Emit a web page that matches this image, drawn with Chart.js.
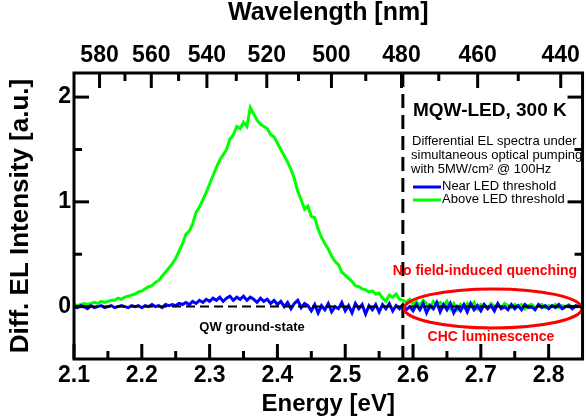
<!DOCTYPE html>
<html>
<head>
<meta charset="utf-8">
<script src="https://cdn.jsdelivr.net/npm/chart.js@4.4.0/dist/chart.umd.min.js"></script>
<style>
  html, body { margin:0; padding:0; background:#fff; }
</style>
</head>
<body>
<canvas id="chart" width="586" height="418"></canvas>
<script>
// Energy grid [eV]
const energy = [
  2.100,2.105,2.110,2.115,2.120,2.125,2.130,2.135,2.140,2.145,
  2.150,2.155,2.160,2.165,2.170,2.175,2.180,2.185,2.190,2.195,
  2.200,2.205,2.210,2.215,2.220,2.225,2.230,2.235,2.240,2.245,
  2.250,2.255,2.260,2.265,2.270,2.275,2.280,2.285,2.290,2.295,
  2.300,2.305,2.310,2.315,2.320,2.325,2.330,2.335,2.340,2.345,
  2.350,2.355,2.360,2.365,2.370,2.375,2.380,2.385,2.390,2.395,
  2.400,2.405,2.410,2.415,2.420,2.425,2.430,2.435,2.440,2.445,
  2.450,2.455,2.460,2.465,2.470,2.475,2.480,2.485,2.490,2.495,
  2.500,2.505,2.510,2.515,2.520,2.525,2.530,2.535,2.540,2.545,
  2.550,2.555,2.560,2.565,2.570,2.575,2.580,2.585,2.590,2.595,
  2.600,2.605,2.610,2.615,2.620,2.625,2.630,2.635,2.640,2.645,
  2.650,2.655,2.660,2.665,2.670,2.675,2.680,2.685,2.690,2.695,
  2.700,2.705,2.710,2.715,2.720,2.725,2.730,2.735,2.740,2.745,
  2.750,2.755,2.760,2.765,2.770,2.775,2.780,2.785,2.790,2.795,
  2.800,2.805,2.810,2.815,2.820,2.825,2.830,2.835,2.840,2.845,
  2.850
];

// Near LED threshold (blue)
const nearLED = [
  0.00,-0.01,0.01,0.00,-0.02,0.01,-0.01,0.00,0.01,-0.01,
  0.00,0.01,-0.01,0.00,0.01,0.00,-0.01,0.01,0.00,0.01,
  -0.01,0.01,0.00,0.02,0.00,0.01,-0.01,0.02,0.01,0.02,
  0.01,0.03,0.02,0.04,0.02,0.05,0.03,0.06,0.04,0.07,
  0.05,0.08,0.06,0.09,0.05,0.08,0.10,0.06,0.09,0.07,
  0.10,0.06,0.09,0.07,0.04,0.08,0.05,0.07,0.03,0.06,
  0.02,0.05,0.00,0.04,-0.02,0.03,0.06,-0.01,0.03,0.01,
  -0.04,0.02,-0.06,0.01,-0.03,0.03,-0.05,0.00,-0.02,0.04,
  -0.04,0.01,-0.06,0.03,-0.02,0.02,-0.07,0.01,-0.03,0.02,
  -0.05,0.02,-0.02,0.03,-0.04,0.01,-0.02,0.02,-0.03,0.00,
  -0.04,0.02,-0.03,0.03,-0.06,0.01,-0.02,0.04,-0.05,0.02,
  -0.03,0.03,-0.06,0.00,-0.04,0.02,-0.05,0.03,-0.03,0.01,
  -0.04,0.02,-0.02,0.01,-0.04,0.03,-0.02,0.00,-0.03,0.02,
  -0.02,0.01,-0.03,0.02,-0.01,0.00,-0.03,0.02,-0.01,0.01,
  -0.02,0.01,-0.01,0.02,-0.02,0.00,0.01,-0.02,0.01,0.00,
  0.00
];

// Above LED threshold (green)
const aboveLED = [
  0.02,0.01,0.02,0.03,0.02,0.03,0.04,0.03,0.05,0.04,
  0.05,0.06,0.06,0.08,0.07,0.09,0.10,0.11,0.12,0.14,
  0.15,0.17,0.19,0.20,0.23,0.25,0.29,0.33,0.37,0.41,
  0.46,0.53,0.60,0.69,0.72,0.79,0.90,0.95,1.02,1.09,
  1.17,1.25,1.33,1.40,1.45,1.50,1.60,1.64,1.72,1.70,
  1.76,1.72,1.90,1.84,1.78,1.74,1.72,1.70,1.64,1.62,
  1.56,1.50,1.44,1.38,1.31,1.22,1.10,1.02,0.93,0.96,
  0.86,0.85,0.74,0.66,0.60,0.55,0.48,0.43,0.40,0.33,
  0.30,0.27,0.24,0.20,0.19,0.17,0.16,0.14,0.15,0.12,
  0.13,0.08,0.05,0.11,0.09,0.12,0.07,0.06,0.04,0.07,
  0.02,0.05,0.01,0.06,0.03,-0.01,0.05,0.02,0.04,0.00,
  0.05,-0.02,0.03,-0.03,0.02,-0.01,0.03,0.00,0.04,-0.02,
  0.02,0.01,-0.02,0.03,0.00,0.02,-0.01,0.03,0.01,-0.01,
  0.02,0.00,0.02,-0.02,0.01,0.02,-0.01,0.01,0.02,-0.01,
  0.01,0.00,0.02,-0.01,0.01,0.00,0.02,-0.01,0.00,0.01,
  0.00
];

// Tick labels
const energyTicks = [2.1, 2.2, 2.3, 2.4, 2.5, 2.6, 2.7, 2.8];
const energyMinor = [2.15, 2.25, 2.35, 2.45, 2.55, 2.65, 2.75];
const wlTicks = [580, 560, 540, 520, 500, 480, 460, 440];
const wlMinor = [570, 550, 530, 510, 490, 470, 450];
const yTicks = [0, 1, 2];
const yMinor = [0.5, 1.5];

const HC = 1239.84;          // eV*nm
const qwEdge = 2.585;        // dashed line, ~480 nm
const FONT = "'Liberation Sans', Arial, sans-serif";

const pts = arr => energy.map((e, i) => ({x: e, y: arr[i]}));

// frame, inward ticks, annotations
const decor = {
  id: 'decor',
  afterDatasetsDraw(chart) {
    const {ctx, chartArea: a, scales: {x, y}} = chart;
    ctx.save();

    // dashed zero line
    ctx.strokeStyle = '#000';
    ctx.lineWidth = 2;
    ctx.setLineDash([9, 5]);
    const y0 = y.getPixelForValue(0);
    ctx.beginPath(); ctx.moveTo(a.left, y0); ctx.lineTo(a.right, y0); ctx.stroke();

    // dashed vertical line
    ctx.lineWidth = 3;
    ctx.setLineDash([14, 7]);
    const xv = x.getPixelForValue(qwEdge);
    ctx.beginPath(); ctx.moveTo(xv, a.top); ctx.lineTo(xv, a.bottom); ctx.stroke();
    ctx.setLineDash([]);

    // red ellipse around CHC region
    const cx = x.getPixelForValue(2.718), cy = y.getPixelForValue(-0.017);
    const rx = x.getPixelForValue(2.718 + 0.131) - cx;
    const ry = cy - y.getPixelForValue(-0.017 + 0.186);
    ctx.strokeStyle = '#f00';
    ctx.lineWidth = 3;
    ctx.beginPath(); ctx.ellipse(cx, cy, rx, ry, 0, 0, Math.PI * 2); ctx.stroke();

    // frame
    ctx.strokeStyle = '#000';
    ctx.lineWidth = 3;
    ctx.strokeRect(a.left, a.top, a.width, a.height);

    // ticks (inward)
    const tick = (x1, y1, x2, y2) => { ctx.beginPath(); ctx.moveTo(x1, y1); ctx.lineTo(x2, y2); ctx.stroke(); };
    energyTicks.forEach(v => { const p = x.getPixelForValue(v); tick(p, a.bottom, p, a.bottom - 15); });
    energyMinor.forEach(v => { const p = x.getPixelForValue(v); tick(p, a.bottom, p, a.bottom - 8); });
    wlTicks.forEach(w => { const p = x.getPixelForValue(HC / w); tick(p, a.top, p, a.top + 15); });
    wlMinor.forEach(w => { const p = x.getPixelForValue(HC / w); tick(p, a.top, p, a.top + 8); });
    yTicks.forEach(v => {
      const p = y.getPixelForValue(v);
      tick(a.left, p, a.left + 15, p); tick(a.right, p, a.right - 15, p);
    });
    yMinor.forEach(v => {
      const p = y.getPixelForValue(v);
      tick(a.left, p, a.left + 8, p); tick(a.right, p, a.right - 8, p);
    });

    // text block
    ctx.textBaseline = 'middle';
    ctx.textAlign = 'left';
    ctx.fillStyle = '#000';
    ctx.font = 'bold 19px ' + FONT;
    ctx.fillText('MQW-LED, 300 K', 413, 111);
    ctx.font = '13px ' + FONT;
    ctx.fillText('Differential EL spectra under', 412, 141);
    ctx.fillText('simultaneous optical pumping', 411, 155);
    ctx.fillText('with 5MW/cm² @ 100Hz', 411, 169);
    ctx.fillText('Near LED threshold', 442, 186);
    ctx.fillText('Above LED threshold', 442, 199);
    ctx.lineWidth = 3;
    ctx.strokeStyle = '#0000ff';
    tick(413, 187, 441, 187);
    ctx.strokeStyle = '#00ff00';
    tick(413, 200, 441, 200);

    ctx.textAlign = 'center';
    ctx.font = 'bold 13px ' + FONT;
    ctx.fillText('QW ground-state', 252, 327);
    ctx.fillStyle = '#f00';
    ctx.font = 'bold 14px ' + FONT;
    ctx.fillText('No field-induced quenching', 485, 271);
    ctx.fillText('CHC luminescence', 491, 337);

    ctx.restore();
  }
};

const tickFont = {family: FONT, size: 23, weight: 'bold', lineHeight: 1};
const titleFont = {family: FONT, size: 24, weight: 'bold', lineHeight: 1};

new Chart(document.getElementById('chart'), {
  type: 'line',
  data: {
    datasets: [
      {label: 'Near LED threshold', data: pts(nearLED), borderColor: '#0000ff', borderWidth: 3, pointRadius: 0, tension: 0},
      {label: 'Above LED threshold', data: pts(aboveLED), borderColor: '#00ff00', borderWidth: 3, pointRadius: 0, tension: 0}
    ]
  },
  options: {
    responsive: false,
    animation: false,
    devicePixelRatio: 1,
    layout: {padding: {left: 0, right: 2, top: 0, bottom: 0}},
    plugins: {legend: {display: false}, tooltip: {enabled: false}},
    scales: {
      x: {
        type: 'linear', position: 'bottom', min: 2.1, max: 2.85,
        afterBuildTicks: s => { s.ticks = energyTicks.map(v => ({value: v})); },
        afterFit: s => { s.height = 59; },
        ticks: {autoSkip: false, maxRotation: 0, padding: 5, color: '#000', font: tickFont,
                callback: v => v.toFixed(1)},
        grid: {display: false, drawTicks: false},
        border: {display: false},
        title: {display: true, text: 'Energy [eV]', color: '#000', font: titleFont, padding: {top: 0, bottom: 2}}
      },
      x2: {
        type: 'linear', position: 'top', min: 2.1, max: 2.85,
        afterBuildTicks: s => { s.ticks = wlTicks.map(w => ({value: HC / w})); },
        afterFit: s => { s.height = 73; },
        ticks: {autoSkip: false, maxRotation: 0, padding: 6, color: '#000', font: tickFont,
                callback: (v, i) => String(wlTicks[i])},
        grid: {display: false, drawTicks: false},
        border: {display: false},
        title: {display: true, text: 'Wavelength [nm]', color: '#000', font: {family: FONT, size: 25, weight: 'bold', lineHeight: 1}, padding: {top: 1, bottom: 0}}
      },
      y: {
        type: 'linear', position: 'left', min: -0.5, max: 2.23,
        afterBuildTicks: s => { s.ticks = yTicks.map(v => ({value: v})); },
        afterFit: s => { s.width = 74; },
        ticks: {padding: 3, color: '#000', font: tickFont, callback: v => String(v)},
        grid: {display: false, drawTicks: false},
        border: {display: false},
        title: {display: true, text: 'Diff. EL Intensity [a.u.]', color: '#000', font: {family: FONT, size: 26, weight: 'bold', lineHeight: 1}, padding: {top: 8, bottom: 0}}
      }
    }
  },
  plugins: [decor]
});
</script>
</body>
</html>
